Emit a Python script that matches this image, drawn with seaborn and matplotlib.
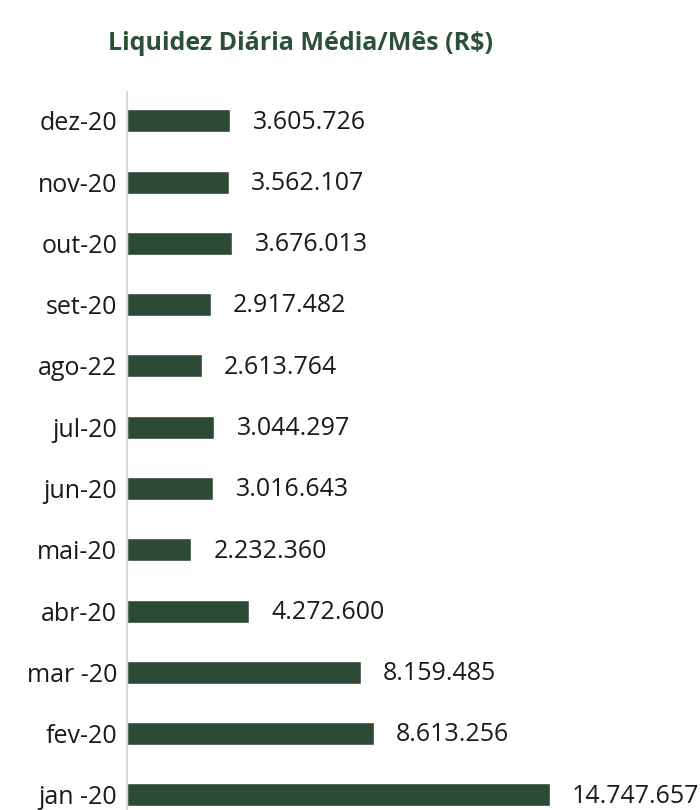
import matplotlib
matplotlib.use("Agg")
import matplotlib.pyplot as plt
import seaborn as sns
import pandas as pd

months = ["dez-20", "nov-20", "out-20", "set-20", "ago-22", "jul-20",
          "jun-20", "mai-20", "abr-20", "mar -20", "fev-20", "jan -20"]
values = [3605726, 3562107, 3676013, 2917482, 2613764, 3044297,
          3016643, 2232360, 4272600, 8159485, 8613256, 14747657]

df = pd.DataFrame({"mes": months, "valor": values})

sns.set_style("white")
plt.rcParams["font.family"] = ["Open Sans", "DejaVu Sans"]

bar_color = "#2d4a36"
title_color = "#2d5038"

fig = plt.figure(figsize=(7, 8.1), dpi=100)
ax = fig.add_axes([127 / 700, 0, 573 / 700, 718 / 810])

sns.barplot(data=df, x="valor", y="mes", orient="h", color=bar_color,
            width=0.375, saturation=1, ax=ax, order=months)

ax.set_xlim(0, 20e6)
ax.set_ylim(11.245, -0.47)

def fmt(v):
    return f"{v:,}".replace(",", ".")

for i, v in enumerate(values):
    ax.text(v + 0.78e6, i + 0.02, fmt(v), va="center", ha="left",
            fontsize=18, color="#1a1a1a")

ax.set_xlabel("")
ax.set_ylabel("")
ax.set_xticks([])
ax.tick_params(axis="y", length=0, pad=7, labelsize=18, labelcolor="#1a1a1a")
for s in ["top", "right", "bottom"]:
    ax.spines[s].set_visible(False)
ax.spines["left"].set_color("#d9d9d9")
ax.spines["left"].set_linewidth(1.5)

fig.text(301 / 700, 1 - 44 / 810, "Liquidez Diária Média/Mês (R$)",
         ha="center", va="center", fontsize=18, fontweight="bold",
         color=title_color)

fig.savefig("out.png", dpi=100)
